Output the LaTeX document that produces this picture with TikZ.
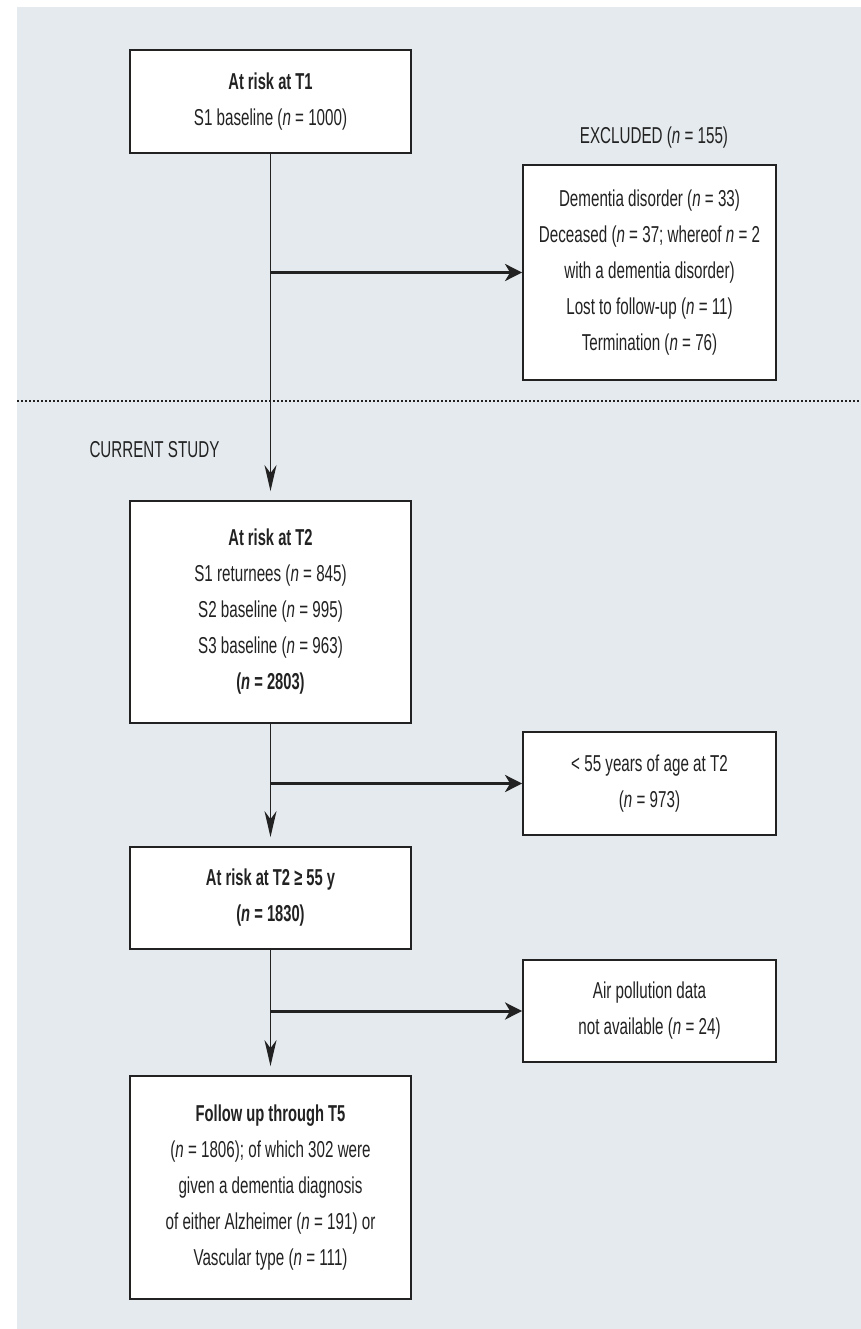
\documentclass[tikz,border=0pt]{standalone}
\usepackage{fontspec}
\setmainfont{Liberation Sans}[
	UprightFeatures={FakeStretch=0.66},
	ItalicFeatures={FakeStretch=0.66},
	BoldFeatures={FakeStretch=0.64},
	BoldItalicFeatures={FakeStretch=0.64}]
\usetikzlibrary{arrows.meta,calc,positioning}
\definecolor{panelGrey}{RGB}{228,234,237}
\definecolor{inkGrey}{RGB}{34,34,34}
\tikzstyle{stageBox} = [draw=inkGrey, line width=1.8pt, fill=white, text=inkGrey, align=center, inner sep=0pt, minimum width=281pt, minimum height=103pt]
\tikzstyle{dropBox} = [stageBox, minimum width=253pt]
\tikzstyle{flowArrow} = [line width=1.6pt, draw=inkGrey, -{Stealth[length=26pt,width=12pt,inset=8pt]}, shorten >=9pt]
\tikzstyle{dropArrow} = [line width=3pt, draw=inkGrey, -{Stealth[length=17pt,width=17pt,inset=5pt]}]
\tikzstyle{sepLine} = [line width=2pt, draw=inkGrey, dash pattern=on 2pt off 2pt]

\begin{document}
\begin{tikzpicture}[x=1pt,y=-1pt,every node/.style={font=\fontsize{23}{36}\selectfont,text=inkGrey}]
	\useasboundingbox (0,0) rectangle (861,1329);
	\fill[panelGrey] (17,7) rectangle (861,1329);
	\draw[sepLine] (17,401) -- (861,401);

	\node (t1) at (270.5,101.5) [stageBox] {\textbf{At risk at T1}\\S1 baseline (\textit{n} = 1000)};
	\node (exclLabel) at (654,138) {EXCLUDED (\textit{n} = 155)};
	\node (excl) at (649.5,272.5) [dropBox, minimum height=215pt] {Dementia disorder (\textit{n} = 33)\\Deceased (\textit{n} = 37;\ whereof \textit{n} = 2\\with a dementia disorder)\\Lost to follow-up (\textit{n} = 11)\\Termination (\textit{n} = 76)};
	\node (study) at (86,450) [anchor=west] {CURRENT STUDY};
	\node (t2) at (270.5,612) [stageBox, minimum height=222pt] {\textbf{At risk at T2}\\S1 returnees (\textit{n} = 845)\\S2 baseline (\textit{n} = 995)\\S3 baseline (\textit{n} = 963)\\\textbf{(\textit{n} = 2803)}};
	\node (young) at (649.5,783.5) [dropBox] {< 55 years of age at T2\\(\textit{n} = 973)};
	\node (t2old) at (270.5,898) [stageBox, minimum height=102pt] {\textbf{At risk at T2 ≥ 55 y}\\\textbf{(\textit{n} = 1830)}};
	\node (air) at (649.5,1011) [dropBox, minimum height=102pt] {Air pollution data\\not available (\textit{n} = 24)};
	\node (t5) at (270.5,1187.5) [stageBox, minimum height=223pt] {\textbf{Follow up through T5}\\(\textit{n} = 1806); of which 302 were\\given a dementia diagnosis\\of either Alzheimer (\textit{n} = 191) or\\Vascular type (\textit{n} = 111)};

	\draw[flowArrow] (t1) -- (t2);
	\draw[flowArrow] (t2) -- (t2old);
	\draw[flowArrow] (t2old) -- (t5);
	\draw[dropArrow] (t1 |- excl) -- (excl);
	\draw[dropArrow] (t2 |- young) -- (young);
	\draw[dropArrow] (t2old |- air) -- (air);
\end{tikzpicture}
\end{document}
